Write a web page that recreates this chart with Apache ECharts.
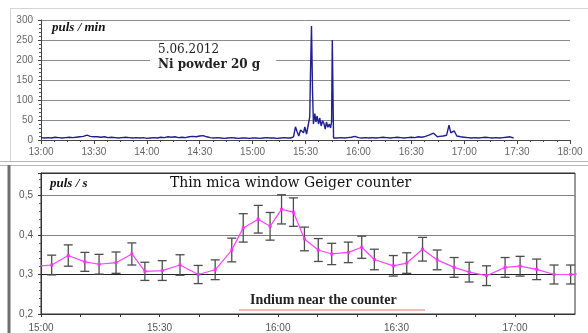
<!DOCTYPE html>
<html>
<head>
<meta charset="utf-8">
<title>Geiger counter</title>
<script src="https://cdn.jsdelivr.net/npm/echarts@6.0.0/dist/echarts.min.js"></script>
<style>
  html, body { margin: 0; padding: 0; background: #fff; }
  #chart { width: 588px; height: 333px; }
</style>
</head>
<body>
<div id="chart"></div>
<script>
// upper panel: counts per minute, time in minutes after 13:00
var topTimes = [0, 2, 4, 6, 8, 10, 12, 14, 16, 18, 20, 22, 24, 26, 28, 30, 32, 34, 36, 38,
  40, 42, 44, 46, 48, 50, 52, 54, 56, 58, 60, 62, 64, 66, 68, 70, 72, 74, 76, 78,
  80, 82, 84, 86, 88, 90, 92, 94, 96, 98, 100, 102, 104, 106, 108, 110, 112, 114, 116, 118,
  120, 122, 124, 126, 128, 130, 132, 134, 136, 138, 140,
  141.5, 143.2, 144.3, 145.3, 146.2, 147.2, 148.1, 148.9, 149.6, 150.6, 151.5, 152.4, 152.8, 153.4, 154,
  154.5, 155.3, 155.9, 156.6, 157.4, 158.1, 158.9, 159.7, 160.4, 161.2, 161.9, 162.7, 163.5, 164.2, 164.8,
  165.2, 165.9,
  168, 170, 172, 174, 176, 178, 180, 182, 184, 186, 188, 190, 192, 194, 196, 198, 200, 202, 204, 206,
  208, 210, 212, 214, 216, 218, 220, 222.6, 224.8, 226, 228, 230, 231.4, 232.4, 233.3, 234.3, 235.8,
  238, 240, 242, 244, 246, 248, 250, 252, 254, 256, 258, 260, 262, 264, 266, 268];
var topValues = [6, 5, 6, 5, 7, 6, 5, 6, 7, 6, 7, 8, 9, 12, 9, 8, 8, 7, 8, 6,
  7, 6, 5, 6, 7, 6, 5, 6, 5, 6, 4, 5, 6, 5, 7, 6, 8, 7, 8, 6,
  7, 6, 8, 9, 8, 10, 11, 8, 6, 5, 6, 5, 4, 5, 6, 5, 4, 5, 5, 4,
  5, 5, 4, 5, 6, 5, 5, 4, 5, 6, 5,
  5, 8, 33, 20, 10, 25, 29, 18, 33, 15, 10, 58, 160, 285, 120,
  40, 66, 45, 60, 40, 55, 35, 48, 42, 27, 45, 32, 40, 30, 45,
  250, 5,
  5, 6, 5, 6, 7, 9, 6, 5, 6, 5, 6, 5, 6, 7, 6, 5, 6, 7, 6, 5,
  6, 7, 6, 8, 7, 9, 12, 17, 8, 9, 10, 12, 37, 18, 16, 23, 10,
  8, 7, 6, 5, 6, 5, 6, 7, 6, 5, 6, 5, 6, 7, 8, 5];
var topTicks = [0, 50, 100, 150, 200, 250, 300];

// lower panel: counts per second, time in minutes after 15:00
var botTimes = [0, 2.7, 6.9, 11.1, 14.7, 19.0, 23.0, 26.3, 30.7, 35.2, 39.8, 44.1, 48.3, 51.2,
  55.0, 58.0, 60.9, 63.9, 66.7, 70.2, 73.6, 77.8, 81.2, 84.4, 89.2, 92.6, 96.6, 100.3,
  104.6, 108.4, 112.8, 117.5, 121.3, 125.5, 129.9, 134.1, 138.5];
var botValues = [0.322, 0.324, 0.348, 0.332, 0.326, 0.330, 0.352, 0.308, 0.310, 0.324, 0.300, 0.312, 0.362, 0.418,
  0.440, 0.422, 0.465, 0.458, 0.390, 0.362, 0.352, 0.356, 0.369, 0.338, 0.322, 0.329, 0.364, 0.337,
  0.318, 0.306, 0.297, 0.318, 0.321, 0.313, 0.300, 0.300, 0.302];
var botErrors = [null, 0.025, 0.027, 0.024, 0.025, 0.027, 0.028, 0.023, 0.025, 0.026, 0.023, 0.025, 0.030, 0.036,
  0.035, 0.035, 0.037, 0.036, 0.030, 0.029, 0.027, 0.026, 0.028, 0.026, 0.026, 0.026, 0.030, 0.025,
  0.025, 0.025, 0.025, 0.025, 0.025, 0.026, 0.024, 0.024, null];

function hhmm(base) {
  return function (v) {
    if (Math.abs(v % 30) > 0.01) return '';
    var h = base + Math.floor(v / 60);
    var m = Math.round(v % 60);
    return h + ':' + (m < 10 ? '0' : '') + m;
  };
}

var topData = topTimes.map(function (t, i) { return [t, topValues[i]]; });
var lineData = botTimes.map(function (t, i) {
  return { value: [t, botValues[i]], symbol: botErrors[i] == null ? 'none' : 'rect' };
});
var errData = [];
botTimes.forEach(function (t, i) {
  if (botErrors[i] != null) errData.push([t, botValues[i] - botErrors[i], botValues[i] + botErrors[i]]);
});

function renderErr(params, api) {
  var x = api.value(0);
  var lo = api.coord([x, api.value(1)]);
  var hi = api.coord([x, api.value(2)]);
  var w = 4.5;
  var st = { stroke: '#4d4d4d', lineWidth: 1.3 };
  return {
    type: 'group',
    children: [
      { type: 'line', shape: { x1: hi[0], y1: hi[1], x2: lo[0], y2: lo[1] }, style: st },
      { type: 'line', shape: { x1: hi[0] - w, y1: hi[1], x2: hi[0] + w, y2: hi[1] }, style: st },
      { type: 'line', shape: { x1: lo[0] - w, y1: lo[1], x2: lo[0] + w, y2: lo[1] }, style: st }
    ]
  };
}

var myChart = echarts.init(document.getElementById('chart'), null, { renderer: 'canvas' });

var option = {
  animation: false,
  backgroundColor: '#fff',
  grid: [
    { left: 41, right: 18, top: 20, height: 120 },
    { left: 41, right: 13, top: 173, height: 149, show: true, borderColor: '#333', borderWidth: 1 }
  ],
  xAxis: [
    {
      gridIndex: 0, type: 'value', min: 0, max: 300, interval: 30,
      axisLine: { lineStyle: { color: '#444' } },
      axisTick: { length: 4, lineStyle: { color: '#444' } },
      minorTick: { show: true, splitNumber: 4, length: 2, lineStyle: { color: '#444' } },
      axisLabel: { formatter: hhmm(13), color: '#666', fontSize: 10, fontFamily: 'Liberation Sans', margin: 7 },
      splitLine: { show: false }
    },
    {
      gridIndex: 1, type: 'value', min: 0, max: 135.2, interval: 10,
      axisLine: { lineStyle: { color: '#333' } },
      axisTick: { length: 3, lineStyle: { color: '#333' } },
      axisLabel: { formatter: hhmm(15), color: '#555', fontSize: 10, fontFamily: 'Liberation Sans', margin: 9, showMaxLabel: false },
      splitLine: { show: false }
    }
  ],
  yAxis: [
    {
      gridIndex: 0, type: 'value', min: topTicks[0], max: topTicks[topTicks.length - 1], interval: 50,
      axisLine: { show: true, lineStyle: { color: '#444' } },
      axisTick: { show: true, length: 3, lineStyle: { color: '#444' } },
      minorTick: { show: true, splitNumber: 5, length: 2, lineStyle: { color: '#555' } },
      axisLabel: { color: '#666', fontSize: 10, fontFamily: 'Liberation Sans', margin: 8 },
      splitLine: { show: true, lineStyle: { color: '#8c8c8c', width: 1 } }
    },
    {
      gridIndex: 1, type: 'value', min: 0.2, max: 0.557, interval: 0.1,
      axisLine: { show: true, lineStyle: { color: '#333' } },
      axisTick: { show: true, length: 3, lineStyle: { color: '#333' } },
      minorTick: { show: true, splitNumber: 5, length: 2, lineStyle: { color: '#555' } },
      axisLabel: {
        color: '#555', fontSize: 10, fontFamily: 'Liberation Sans', margin: 8, showMaxLabel: false,
        formatter: function (v) { return v.toFixed(1).replace('.', ','); }
      },
      splitLine: { show: true, lineStyle: { color: ['#333', '#222', '#808080', '#808080', '#333'], width: 1 } }
    }
  ],
  series: [
    {
      name: 'puls/min', type: 'line', xAxisIndex: 0, yAxisIndex: 0,
      data: topData, showSymbol: false,
      lineStyle: { color: '#1f1f92', width: 1.4 }
    },
    {
      name: 'err', type: 'custom', xAxisIndex: 1, yAxisIndex: 1,
      data: errData, renderItem: renderErr, z: 2
    },
    {
      name: 'puls/s', type: 'line', xAxisIndex: 1, yAxisIndex: 1,
      data: lineData, symbol: 'rect', symbolSize: 3, clip: false, z: 3,
      itemStyle: { color: '#ff33ff' },
      lineStyle: { color: '#ff44ff', width: 1.2 }
    }
  ],
  graphic: [
    // panel frames
    { type: 'line', shape: { x1: 10, y1: 8.5, x2: 588, y2: 8.5 }, style: { stroke: '#d4d4d4', lineWidth: 1 } },
    { type: 'line', shape: { x1: 10.5, y1: 8, x2: 10.5, y2: 161 }, style: { stroke: '#d4d4d4', lineWidth: 1 } },
    { type: 'line', shape: { x1: 0, y1: 161.5, x2: 588, y2: 161.5 }, style: { stroke: '#b8b8b8', lineWidth: 1 } },
    { type: 'line', shape: { x1: 0, y1: 165.5, x2: 588, y2: 165.5 }, style: { stroke: '#b8b8b8', lineWidth: 1 } },
    { type: 'line', shape: { x1: 9, y1: 165, x2: 9, y2: 333 }, style: { stroke: '#6e6e6e', lineWidth: 3 } },
    // labels
    {
      type: 'text', left: 52, top: 21,
      style: { text: 'puls / min', font: 'italic bold 13px "Liberation Serif"', fill: '#111' }
    },
    {
      type: 'text', left: 150, top: 44, z: 10,
      style: {
        text: '5.06.2012', font: '12px "DejaVu Serif"', fill: '#222',
        backgroundColor: '#fff', padding: [0, 60, 0, 8]
      }
    },
    {
      type: 'text', left: 150, top: 58, z: 10,
      style: {
        text: 'Ni powder 20 g', font: 'bold 12px "DejaVu Serif"', fill: '#222',
        backgroundColor: '#fff', padding: [1, 16, 2, 8]
      }
    },
    {
      type: 'text', left: 50, top: 177,
      style: { text: 'puls / s', font: 'italic bold 13px "Liberation Serif"', fill: '#111' }
    },
    {
      type: 'text', left: 170, top: 176,
      style: { text: 'Thin mica window Geiger counter', font: '14px "DejaVu Serif"', fill: '#111' }
    },
    {
      type: 'text', left: 250, top: 293,
      style: { text: 'Indium near the counter', font: 'bold 14px "Liberation Serif"', fill: '#222' }
    },
    { type: 'line', shape: { x1: 239, y1: 310, x2: 425, y2: 310 }, style: { stroke: '#f5a0a0', lineWidth: 1.5 } }
  ]
};

myChart.setOption(option);
</script>
</body>
</html>
